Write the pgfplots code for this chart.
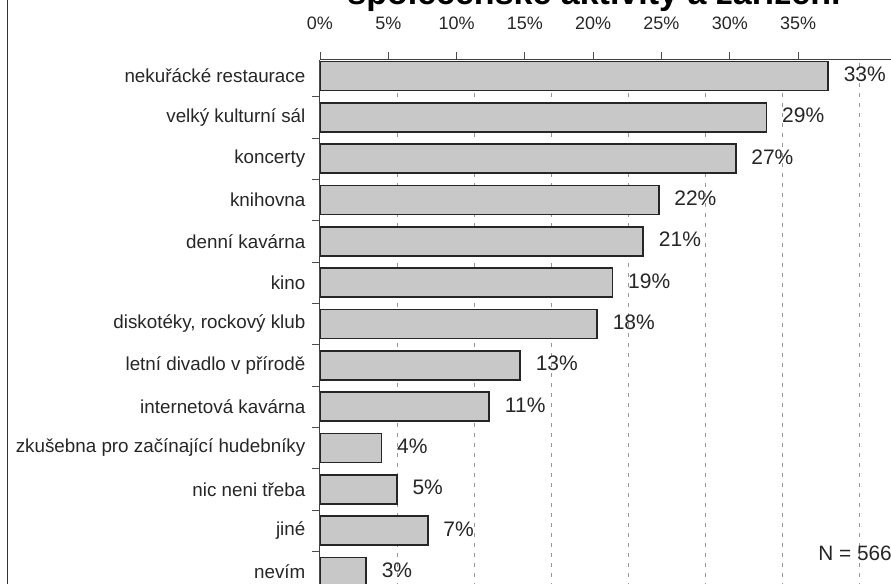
\documentclass[border=0pt]{standalone}
\usepackage{fontspec}
\setmainfont{Liberation Sans}
\usepackage{pgfplots}
\pgfplotsset{compat=1.18}

\definecolor{barfill}{RGB}{200,200,200}
\definecolor{gridgray}{RGB}{150,150,150}

% values, bottom category first (y = 0 .. 12)
\pgfplotstableread{
y  val
0  3
1  7
2  5
3  4
4  11
5  13
6  18
7  19
8  21
9  22
10 27
11 29
12 33
}\bars

\begin{document}
\begin{tikzpicture}
\useasboundingbox (0,0) rectangle (445.5pt,292pt);
\clip (0,0) rectangle (445.5pt,292pt);

\begin{axis}[
    at={(160pt,6pt)}, anchor=origin,
    scale only axis,
    width=308pt, height=268.4pt,
    xbar, bar width=14.5pt,
    xmin=0, xmax=40,
    ymin=-0.6, ymax=12.387,
    axis x line*=top, axis y line*=left,
    axis line style={draw=black!75, line width=0.5pt},
    tick align=outside,
    major tick length=4pt,
    tick style={draw=black!70, line width=0.4pt},
    /pgf/number format/assume math mode=true,
    xtick={0,4.435,8.87,13.305,17.74,22.175,26.61,31.045},
    xticklabels={0\%,5\%,10\%,15\%,20\%,25\%,30\%,35\%},
    xticklabel style={font=\fontsize{9}{10}\selectfont, text=black!85, yshift=7.5pt},
    extra x ticks={5,10,15,20,25,30,35},
    extra x tick labels={},
    extra x tick style={major tick length=0pt, grid=major,
        major grid style={draw=gridgray, line width=0.4pt, dash pattern=on 2pt off 3pt}},
    ytick={-0.5,0.5,...,11.5},
    yticklabels={nevím, jiné, nic neni třeba, zkušebna pro začínající hudebníky,
        internetová kavárna, letní divadlo v přírodě, {diskotéky, rockový klub},
        kino, denní kavárna, knihovna, koncerty, velký kulturní sál,
        nekuřácké restaurace},
    yticklabel style={font=\fontsize{9.4}{11}\selectfont, text=black!85, yshift=10.33pt, xshift=0.2pt},
    nodes near coords={\pgfmathprintnumber{\pgfplotspointmeta}\%},
    nodes near coords style={anchor=west, font=\fontsize{10.5}{12}\selectfont,
        text=black!85, xshift=4pt, yshift=0.8pt},
    point meta=x,
]
\addplot[fill=barfill, draw=black!85, line width=0.9pt] table[x=val, y=y] {\bars};
\end{axis}

\draw[black!80, line width=0.8pt] (3.75pt,0) -- (3.75pt,292pt);
\node[font=\bfseries\fontsize{17}{20}\selectfont, anchor=base] at (297pt,289.5pt)
    {společenské aktivity a zařízení};
\node[anchor=west, inner sep=0pt, font=\fontsize{10.4}{12}\selectfont, text=black!85]
    at (409pt,15.5pt) {N = 566};
\end{tikzpicture}
\end{document}
